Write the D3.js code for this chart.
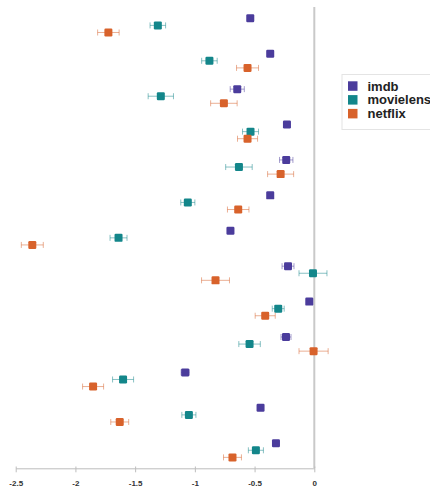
<!DOCTYPE html>
<html>
<head>
<meta charset="utf-8">
<script src="https://cdn.jsdelivr.net/npm/d3@7"></script>
<style>
  html, body { margin: 0; padding: 0; background: #fff; }
  svg { display: block; }
</style>
</head>
<body>
<script>
// ---- data ----
const categories = ["1","2","3","4","5","6","7","8","9","10","11","12","13"];
const series = ["imdb", "movielens", "netflix"];
const colors = ["#4b3c9c", "#13868a", "#d8622b"];

const imdbValues      = [-0.536, -0.369, -0.645, -0.229, -0.235, -0.369, -0.702, -0.220, -0.042, -0.237, -1.081, -0.450, -0.321];
const imdbErrors      = [ 0.025,  0.025,  0.059,  0.025,  0.056,  0.025,  0.025,  0.050,  0.020,  0.042,  0.034,  0.025,  0.025];
const movielensValues = [-1.310, -0.878, -1.285, -0.534, -0.631, -1.059, -1.639, -0.011, -0.302, -0.542, -1.601, -1.050, -0.489];
const movielensErrors = [ 0.065,  0.065,  0.106,  0.067,  0.111,  0.059,  0.071,  0.117,  0.050,  0.090,  0.088,  0.059,  0.063];
const netflixValues   = [-1.724, -0.559, -0.757, -0.559, -0.282, -0.637, -2.361, -0.827, -0.411, -0.006, -1.852, -1.629, -0.685];
const netflixErrors   = [ 0.090,  0.092,  0.111,  0.084,  0.109,  0.090,  0.092,  0.117,  0.084,  0.122,  0.088,  0.075,  0.075];

const xTicks = [-2.5, -2, -1.5, -1, -0.5, 0];
const xTickLabels = ["-2.5", "-2", "-1.5", "-1", "-0.5", "0"];

// ---- layout ----
const W = 430, H = 490;
const svg = d3.select("body").append("svg").attr("width", W).attr("height", H);

const x = d3.scaleLinear().domain([-2.5, 0]).range([15.7, 314.3]);
const yGroup = d3.scaleBand().domain(categories).range([7.7, 468]).padding(0);
const ySeries = d3.scalePoint().domain(series).range([0, yGroup.bandwidth()]).padding(1.5);
const color = d3.scaleOrdinal().domain(series).range(colors);

const table = [];
const valueLists = [imdbValues, movielensValues, netflixValues];
const errorLists = [imdbErrors, movielensErrors, netflixErrors];
categories.forEach((c, i) => {
  series.forEach((s, j) => {
    table.push({ cat: c, series: s, value: valueLists[j][i], err: errorLists[j][i] });
  });
});

// zero line
svg.append("line")
  .attr("x1", x(0)).attr("x2", x(0))
  .attr("y1", 7).attr("y2", 468)
  .attr("stroke", "#c9c9c9").attr("stroke-width", 2);

// x axis
const axis = svg.append("g").attr("transform", "translate(0,468.3)")
  .call(d3.axisBottom(x).tickValues(xTicks).tickSize(0)
    .tickFormat((d, i) => xTickLabels[i]));
axis.select(".domain").attr("stroke", "#bdbdbd").attr("stroke-width", 1);
axis.selectAll(".tick line").attr("y1", -1.8).attr("y2", 4)
  .attr("stroke", "#bdbdbd");
axis.selectAll(".tick text")
  .attr("y", 0).attr("dy", "17.5px")
  .attr("font-family", "'Liberation Sans', Arial, sans-serif")
  .attr("font-weight", "bold").attr("font-size", 8)
  .attr("fill", "#333");

// points
const cy = d => yGroup(d.cat) + ySeries(d.series);
const g = svg.append("g");
const pts = g.selectAll("g.pt").data(table).join("g").attr("class", "pt");

pts.append("line")
  .attr("x1", d => x(d.value - d.err)).attr("x2", d => x(d.value + d.err))
  .attr("y1", cy).attr("y2", cy)
  .attr("stroke", d => color(d.series)).attr("stroke-opacity", 0.5).attr("stroke-width", 1);
pts.append("line")
  .attr("x1", d => x(d.value - d.err)).attr("x2", d => x(d.value - d.err))
  .attr("y1", d => cy(d) - 3).attr("y2", d => cy(d) + 3)
  .attr("stroke", d => color(d.series)).attr("stroke-opacity", 0.5).attr("stroke-width", 1);
pts.append("line")
  .attr("x1", d => x(d.value + d.err)).attr("x2", d => x(d.value + d.err))
  .attr("y1", d => cy(d) - 3).attr("y2", d => cy(d) + 3)
  .attr("stroke", d => color(d.series)).attr("stroke-opacity", 0.5).attr("stroke-width", 1);
pts.append("rect")
  .attr("x", d => x(d.value) - 4).attr("y", d => cy(d) - 4)
  .attr("width", 8).attr("height", 8).attr("rx", 1.2)
  .attr("fill", d => color(d.series));

// legend
const leg = svg.append("g").attr("transform", "translate(342,74.5)");
leg.append("rect").attr("x", 0).attr("y", 0).attr("width", 100).attr("height", 55)
  .attr("fill", "#fff").attr("stroke", "#e4e4e4").attr("stroke-width", 1);
series.forEach((s, i) => {
  const yy = 11.5 + i * 13.8;
  leg.append("rect").attr("x", 6).attr("y", yy - 4.7).attr("width", 9.5).attr("height", 9.5)
    .attr("fill", color(s));
  leg.append("text").attr("x", 25.5).attr("y", yy).attr("dy", "0.35em")
    .attr("font-family", "'Liberation Sans', Arial, sans-serif")
    .attr("font-weight", "bold").attr("font-size", 13)
    .attr("fill", "#222").text(s);
});
</script>
</body>
</html>
